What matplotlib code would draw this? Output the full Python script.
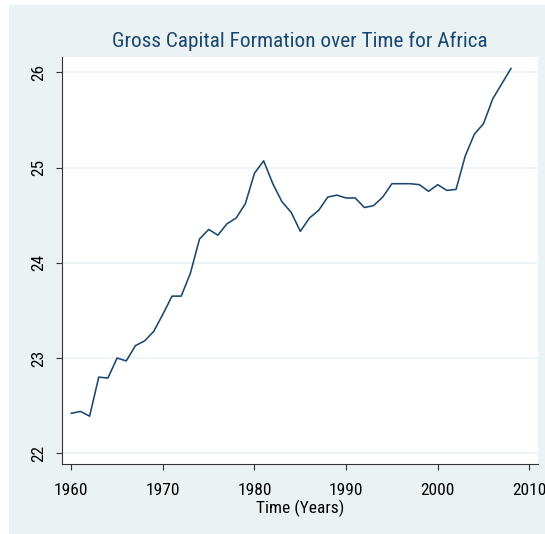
import matplotlib
matplotlib.use("Agg")
import matplotlib.pyplot as plt
from matplotlib.patches import Rectangle
from matplotlib import font_manager

years = list(range(1960, 2009))
gcf = [22.42, 22.44, 22.39, 22.80, 22.79, 23.00, 22.97, 23.13, 23.18, 23.28,
       23.46, 23.65, 23.65, 23.89, 24.25, 24.35, 24.29, 24.41, 24.47, 24.62,
       24.94, 25.07, 24.83, 24.64, 24.53, 24.33, 24.47, 24.55, 24.69, 24.71,
       24.68, 24.68, 24.58, 24.60, 24.69, 24.83, 24.83, 24.83, 24.82, 24.75,
       24.82, 24.76, 24.77, 25.12, 25.35, 25.46, 25.72, 25.88, 26.04]
x_ticks = [1960, 1970, 1980, 1990, 2000, 2010]
y_ticks = [22, 23, 24, 25, 26]
title = "Gross Capital Formation over Time for Africa"
xlabel = "Time (Years)"

avail = {f.name for f in font_manager.fontManager.ttflist}
fam = [f for f in ["Liberation Sans Narrow", "Roboto Condensed", "Liberation Sans", "DejaVu Sans"]
       if f in avail]
condensed = fam[0] in ("Liberation Sans Narrow", "Roboto Condensed")
plt.rcParams['font.family'] = fam

tick_fs = 12.5 if condensed else 11.5
lab_fs = 12.5 if condensed else 11.5
title_fs = 16 if condensed else 13.8

W, H = 545, 534
fig = plt.figure(figsize=(W / 100, H / 100), dpi=100, facecolor="white")
bg = "#EAF2F3"
navy = "#1A476F"
fig.patches.append(Rectangle((9 / W, 0), 1 - 9 / W, 1 - 5 / H, transform=fig.transFigure,
                             facecolor=bg, edgecolor="none", zorder=-10))

ax = fig.add_axes([62.3 / W, 1 - 464 / H, (538.3 - 62.3) / W, (464 - 57) / H])
ax.set_zorder(2)
ax.set_facecolor("white")
ax.plot(years, gcf, color=navy, linewidth=1.15, zorder=3)
ax.set_xlim(1959.02, 2010.98)
ax.set_ylim(21.888, 26.16)
ax.set_xticks(x_ticks)
ax.set_yticks(y_ticks)
ax.set_yticklabels([str(v) for v in y_ticks], rotation=90, va="center")
ax.tick_params(axis="both", labelsize=tick_fs, colors="#333333", labelcolor="black",
               direction="out", length=4, width=0.8)
ax.tick_params(axis="x", pad=9.5)
ax.tick_params(axis="y", pad=7.5)
ax.grid(axis="y", color=bg, linewidth=1.2, zorder=1)
ax.grid(axis="x", visible=False)
for s in ["top", "right"]:
    ax.spines[s].set_visible(False)
for s in ["left", "bottom"]:
    ax.spines[s].set_color("#333333")
    ax.spines[s].set_linewidth(0.8)
ax.set_xlabel(xlabel, fontsize=lab_fs, labelpad=1.5)

# fit title width to the reference (~377 px wide, centred over the plot)
t = fig.text(300 / W, 1 - 41 / H, title, ha="center", va="center", fontsize=title_fs, color=navy)
fig.canvas.draw()
w = t.get_window_extent().width
t.set_fontsize(title_fs * 377.0 / w)

fig.savefig("out.png", dpi=100, facecolor="white")
